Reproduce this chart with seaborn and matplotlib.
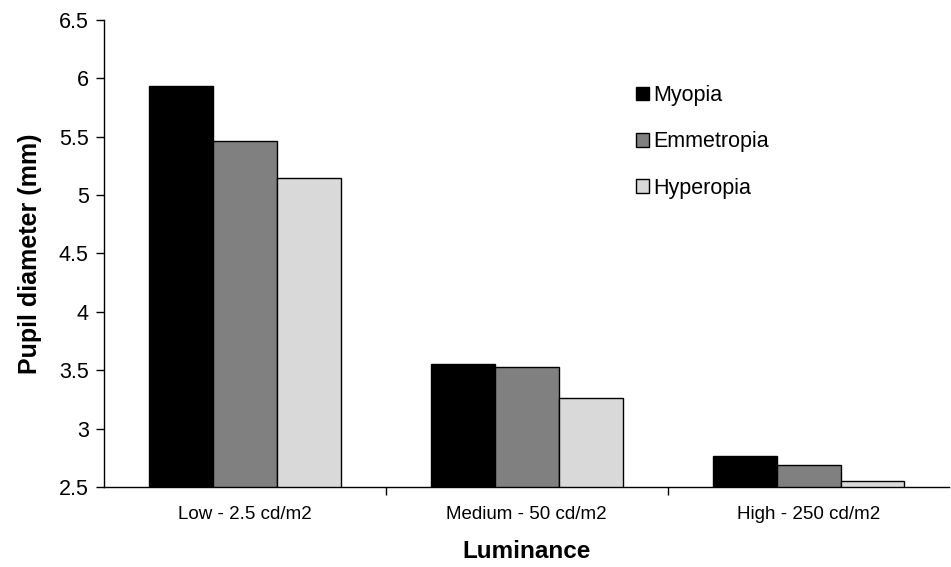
import pandas as pd
import matplotlib.pyplot as plt
import seaborn as sns

# Values
luminance = ["Low - 2.5 cd/m2", "Medium - 50 cd/m2", "High - 250 cd/m2"]
myopia = [5.93, 3.55, 2.77]
emmetropia = [5.46, 3.53, 2.69]
hyperopia = [5.15, 3.26, 2.55]
groups = ["Myopia", "Emmetropia", "Hyperopia"]
colors = ["#000000", "#808080", "#D9D9D9"]

rows = []
for name, vals in zip(groups, [myopia, emmetropia, hyperopia]):
    for lum, v in zip(luminance, vals):
        rows.append({"Luminance": lum, "Pupil": v, "Refraction": name})
df = pd.DataFrame(rows)

sns.set_theme(style="white")
plt.rcParams["font.family"] = ["Liberation Sans", "DejaVu Sans"]
plt.rcParams["text.color"] = "black"
plt.rcParams["axes.labelcolor"] = "black"
plt.rcParams["xtick.color"] = "black"
plt.rcParams["ytick.color"] = "black"

fig = plt.figure(figsize=(9.51, 5.67), dpi=100)
ax = fig.add_axes([0.1094, 0.141, 0.889, 0.824])

sns.barplot(data=df, x="Luminance", y="Pupil", hue="Refraction",
            order=luminance, hue_order=groups, palette=colors,
            edgecolor="black", linewidth=1, width=0.68, gap=0, ax=ax)

ax.set_ylim(2.5, 6.5)
ax.set_xlim(-0.5, 2.5)
ax.set_yticks([2.5, 3, 3.5, 4, 4.5, 5, 5.5, 6, 6.5])
ax.set_yticklabels(["2.5", "3", "3.5", "4", "4.5", "5", "5.5", "6", "6.5"])
ax.tick_params(axis="y", direction="out", length=6, width=1,
               labelsize=15.5, left=True, pad=5)
ax.tick_params(axis="x", which="major", length=0, labelsize=13.5, pad=14)
ax.set_xticks([0.5, 1.5], minor=True)
ax.tick_params(axis="x", which="minor", direction="out", length=6, width=1,
               bottom=True)

for side in ["top", "right"]:
    ax.spines[side].set_visible(False)
for side in ["left", "bottom"]:
    ax.spines[side].set_color("black")
    ax.spines[side].set_linewidth(1)

ax.set_xlabel("Luminance", fontsize=17.5, fontweight="bold", labelpad=12)
ax.set_ylabel("Pupil diameter (mm)", fontsize=18, fontweight="bold", labelpad=12)

ax.legend(title=None, frameon=False, loc="upper left",
          bbox_to_anchor=(0.606, 0.902), fontsize=15.5, handlelength=0.6,
          handleheight=0.6, handletextpad=0.2, labelspacing=1.18)

fig.savefig("out.png", dpi=100)
